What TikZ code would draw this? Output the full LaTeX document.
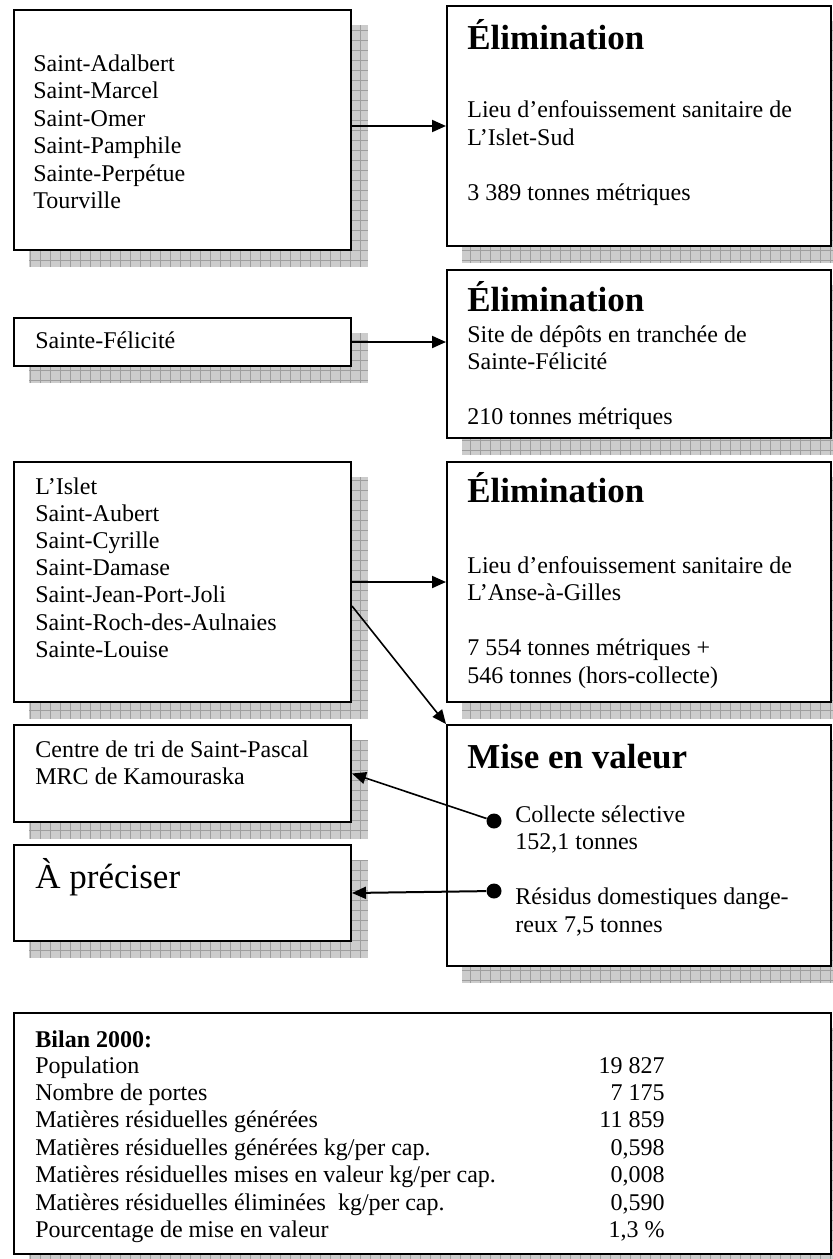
\documentclass[tikz,border=0pt]{standalone}
\usepackage{fontspec}
\setmainfont{Liberation Serif}
\usetikzlibrary{arrows.meta,backgrounds,positioning}
\definecolor{shadowfill}{gray}{0.80}
\definecolor{shadowline}{gray}{0.62}
\tikzset{
  box/.style 2 args={draw=black, line width=1pt, fill=white, inner sep=0pt, anchor=north west, minimum width=#1, minimum height=#2},
  txt/.style={anchor=base west, inner sep=0pt, font=\fontsize{12}{13.8}\selectfont},
  heading/.style={anchor=base west, inner sep=0pt, font=\fontsize{17.5}{21}\selectfont\bfseries},
  bigtxt/.style={anchor=base west, inner sep=0pt, font=\fontsize{17.5}{21}\selectfont},
  arrow/.style={line width=1pt, -{Triangle[length=7pt,width=6pt]}},
  dot/.style={circle, fill=black, inner sep=0pt, minimum size=7.5pt},
}

\begin{document}
\begin{tikzpicture}[x=0.5pt, y=-0.5pt]
\useasboundingbox (0,0) rectangle (832,1259);

% boxes
\node[box={168.5pt}{120pt}] (A) at (13,9) {};
\node[box={192pt}{120pt}] (E1) at (446,5) {};
\node[box={168.5pt}{24pt}] (F) at (13,317) {};
\node[box={192pt}{84pt}] (E2) at (446,269) {};
\node[box={168.5pt}{120pt}] (B) at (13,461) {};
\node[box={192pt}{120pt}] (E3) at (446,461) {};
\node[box={168.5pt}{48.5pt}] (C) at (13,724) {};
\node[box={192pt}{120.5pt}] (M) at (446,724) {};
\node[box={168.5pt}{48pt}] (P) at (13,844) {};
\node[box={408.5pt}{120.5pt}] (S) at (13,1012) {};

% shadows
\begin{scope}[on background layer]
  \foreach \b in {A,E1,F,E2,B,E3,C,M,P,S} {
    \begin{scope}
      \clip ([shift={(8pt,-8pt)}]\b.south west) rectangle ([shift={(8pt,-8pt)}]\b.north east);
      \fill[shadowfill] ([shift={(8pt,-8pt)}]\b.south west) rectangle ([shift={(8pt,-8pt)}]\b.north east);
      \draw[shadowline, line width=0.35pt, step=5pt] ([shift={(8pt,-8pt)}]\b.south west) grid ([shift={(8pt,-8pt)}]\b.north east);
    \end{scope}
  }
\end{scope}

% municipalities
\foreach \t [count=\i from 0] in {Saint-Adalbert,Saint-Marcel,Saint-Omer,Saint-Pamphile,Sainte-Perpétue,Tourville}
  \node[txt] (a\i) at (33,71+27.5*\i) {\t};
\node[txt] (f0) at (35,348) {Sainte-Félicité};
\foreach \t [count=\i from 0] in {L’Islet,Saint-Aubert,Saint-Cyrille,Saint-Damase,Saint-Jean-Port-Joli,Saint-Roch-des-Aulnaies,Sainte-Louise}
  \node[txt] (b\i) at (35,494+27.2*\i) {\t};
\node[txt] (c0) at (35,757) {Centre de tri de Saint-Pascal};
\node[txt] (c1) at (35,784) {MRC de Kamouraska};
\node[bigtxt] (p0) at (35,888) {À préciser};

% destinations
\node[heading] (e1t) at (467,49) {Élimination};
\node[txt] (e1a) at (467,117) {Lieu d’enfouissement sanitaire de};
\node[txt] (e1b) at (467,145) {L’Islet-Sud};
\node[txt] (e1c) at (467,200) {3 389 tonnes métriques};

\node[heading] (e2t) at (467,311) {Élimination};
\node[txt] (e2a) at (467,342) {Site de dépôts en tranchée de};
\node[txt] (e2b) at (467,369) {Sainte-Félicité};
\node[txt] (e2c) at (467,424) {210 tonnes métriques};

\node[heading] (e3t) at (467,502) {Élimination};
\node[txt] (e3a) at (467,573) {Lieu d’enfouissement sanitaire de};
\node[txt] (e3b) at (467,600) {L’Anse-à-Gilles};
\node[txt] (e3c) at (467,655) {7 554 tonnes métriques +};
\node[txt] (e3d) at (467,683) {546 tonnes (hors-collecte)};

\node[heading] (mt) at (467,768) {Mise en valeur};
\node[dot] (d1) at (494,821) {};
\node[dot] (d2) at (494,891) {};
\node[txt] (m1) at (515,822) {Collecte sélective};
\node[txt] (m2) at (515,849) {152,1 tonnes};
\node[txt] (m3) at (515,904) {Résidus domestiques dange-};
\node[txt] (m4) at (515,932) {reux 7,5 tonnes};

% summary
\node[txt, font=\fontsize{12}{13.8}\selectfont\bfseries] (s0) at (35,1047) {Bilan 2000:};
\foreach \l/\v [count=\i from 0] in {Population/{19 827},Nombre de portes/{7 175},Matières résiduelles générées/{11 859},{Matières résiduelles générées kg/per cap.}/{0,598},{Matières résiduelles mises en valeur kg/per cap.}/{0,008},{Matières résiduelles éliminées\ \ kg/per cap.}/{0,590},Pourcentage de mise en valeur/{1,3 \%}} {
  \node[txt] (sl\i) at (35,1073+27.4*\i) {\l};
  \node[txt, anchor=base east] (sv\i) at (665,1073+27.4*\i) {\v};
}

% connectors
\draw[arrow] (A.east |- E1.west) -- (E1.west);
\draw[arrow] (F.east) -- (F.east -| E2.west);
\draw[arrow] (B.east) -- (E3.west);
\draw[arrow, line width=0.8pt] ([yshift=-12pt]B.east) -- (M.north west);
\draw[arrow, line width=0.8pt] (d1) -- (C.east);
\draw[arrow] (d2) -- (P.east);
\end{tikzpicture}
\end{document}
